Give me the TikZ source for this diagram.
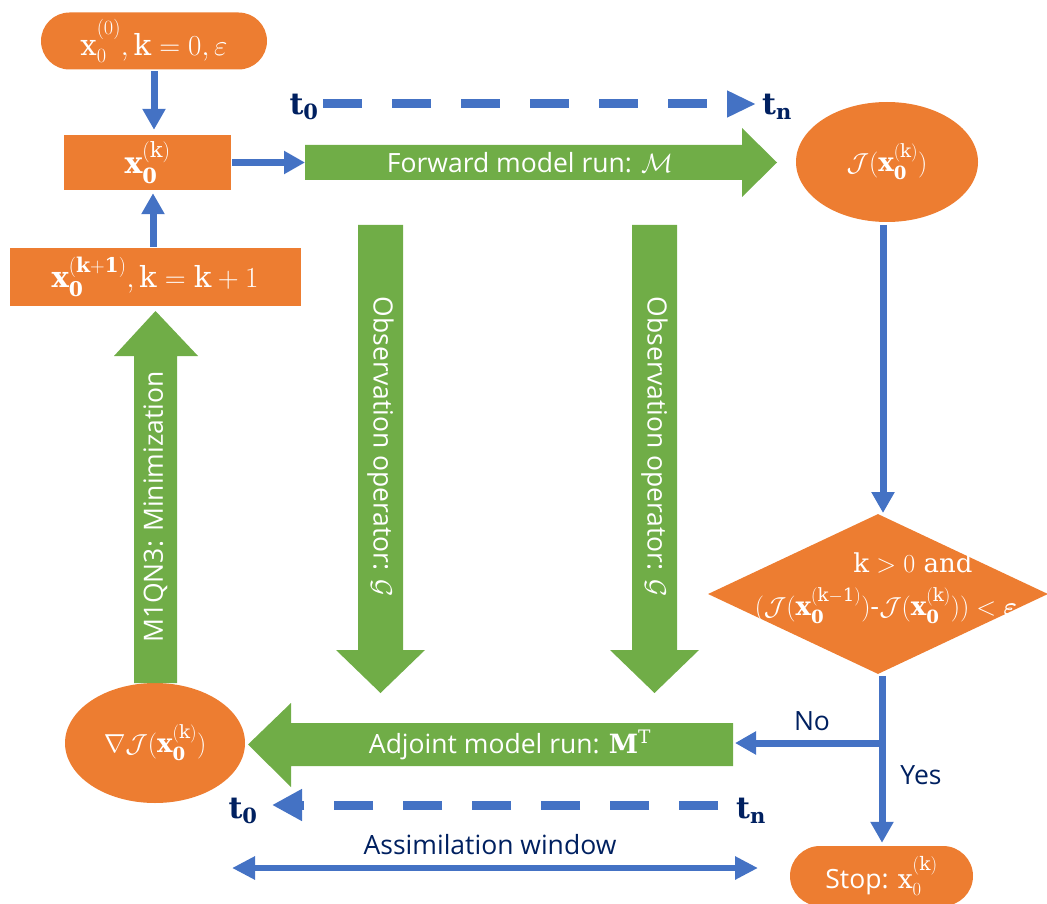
\RequirePackage{fix-cm}
\documentclass[tikz,border=0pt]{standalone}
\usepackage{amsmath,amssymb}
\usepackage{fontspec}
\setmainfont{DejaVu Serif}
\setsansfont{Open Sans}
\usetikzlibrary{arrows.meta,shapes.geometric}
\definecolor{cor}{HTML}{ED7D31}
\definecolor{cgr}{HTML}{70AD47}
\definecolor{cbl}{HTML}{4472C4}
\definecolor{cnv}{HTML}{002060}
\begin{document}
\begin{tikzpicture}[x=1pt,y=-1pt,
  fsz/.style={font=\fontsize{#1}{#1}\selectfont},
  wlab/.style={text=white,font=\sffamily\fontsize{26.5}{30}\selectfont,inner sep=0pt},
  nlab/.style={text=cnv,font=\sffamily\fontsize{26.5}{30}\selectfont,inner sep=0pt},
  tlab/.style={text=cnv,font=\fontsize{30}{34}\selectfont,inner sep=0pt},
  obox/.style={fill=cor,draw=none,text=white,inner sep=0pt},
  bluearrow/.style={draw=cbl,line width=7pt,-{Triangle[width=22pt,length=21pt]}},
  dashline/.style={draw=cbl,line width=9pt,dash pattern=on 39pt off 30pt},
  greenshape/.style={fill=cgr,draw=none}]
\useasboundingbox (0,0) rectangle (1047,904);

% orange nodes
\node[obox,fsz=29,rounded corners=28.5pt,minimum width=226pt,minimum height=57pt] (start) at (154,41)
  {$\mathrm{x}_0^{(0)},\mathrm{k}=0,\varepsilon$};
\node[obox,fsz=30,minimum width=167pt,minimum height=55pt] (xk) at (147.5,162.5)
  {$\mathbf{x}_{\mathbf{0}}^{(\mathrm{k})}$};
\node[obox,fsz=29,minimum width=291pt,minimum height=58pt] (xk1) at (155,277)
  {$\mathbf{x}_{\mathbf{0}}^{(\mathbf{k+1})},\mathrm{k}=\mathrm{k}+1$};
\node[obox,fsz=26,ellipse,minimum width=182pt,minimum height=120pt] (jx) at (887,162)
  {$\mathcal{J}(\mathbf{x}_{\mathbf{0}}^{(\mathrm{k})})$};
\node[obox,diamond,aspect=2.125,minimum width=340pt,minimum height=160pt] (dia) at (878,594) {};
\node[text=white,fsz=26,inner sep=0pt] (dt1) at (913,563) {$\mathrm{k}>0$ and};
\node[text=white,fsz=26,inner sep=0pt] (dt2) at (886,606)
  {$(\mathcal{J}(\mathbf{x}_{\mathbf{0}}^{(\mathrm{k-1})})$-$\mathcal{J}(\mathbf{x}_{\mathbf{0}}^{(\mathrm{k})}))<\boldsymbol{\varepsilon}$};
\node[obox,fsz=26,rounded corners=30pt,minimum width=183pt,minimum height=60pt] (stop) at (881.5,876)
  {\sffamily\fontsize{26.5}{30}\selectfont Stop: $\mathrm{x}_0^{(\mathrm{k})}$};
\node[obox,fsz=26,ellipse,minimum width=180pt,minimum height=120pt] (grad) at (155,743)
  {$\nabla\mathcal{J}(\mathbf{x}_{\mathbf{0}}^{(\mathrm{k})})$};

% green block arrows
\fill[greenshape] (305,145) -- (742,145) -- (742,128) -- (777,162.5) -- (742,197) -- (742,180) -- (305,180) -- cycle;
\node[wlab] (fwd) at (530,163) {Forward model run: $\mathcal{M}$};

\fill[greenshape] (358,225) -- (403,225) -- (403,650) -- (425,650) -- (380.5,693) -- (336,650) -- (358,650) -- cycle;
\node[wlab,rotate=-90] (obs1) at (380.5,447) {Observation operator: $\mathcal{G}$};

\fill[greenshape] (632,225) -- (677,225) -- (677,650) -- (699,650) -- (654.5,693) -- (610,650) -- (632,650) -- cycle;
\node[wlab,rotate=-90] (obs2) at (654.5,447) {Observation operator: $\mathcal{G}$};

\fill[greenshape] (733,723) -- (291,723) -- (291,703) -- (248,744.5) -- (291,787) -- (291,766) -- (733,766) -- cycle;
\node[wlab] (adj) at (510,745) {Adjoint model run: $\mathbf{M}^{\mathrm{T}}$};

\fill[greenshape] (134,683) -- (134,356) -- (114,356) -- (155.5,311) -- (198,356) -- (177,356) -- (177,683) -- cycle;
\node[wlab,rotate=90] (min) at (155.5,507) {M1QN3: Minimization};

% blue connectors
\draw[bluearrow,shorten <=1.5pt,shorten >=5pt] (start.south) -- (start.south |- xk.north);
\coordinate (fwdin) at (305,162.5);
\draw[bluearrow,shorten <=1pt] (xk.east) -- (fwdin);
\coordinate (xk1top) at (153,248);
\draw[bluearrow,shorten <=1pt,shorten >=3pt] (xk1top) -- (xk1top |- xk.south);
\coordinate (jout) at (883,225);
\coordinate (diatop) at (883,513);
\draw[bluearrow] (jout) -- (diatop);
\coordinate (dout) at (882,676);
\draw[bluearrow,shorten >=3pt] (dout) -- (dout |- stop.north);
\coordinate (branch) at (882,743);
\coordinate (adjin) at (735,743);
\draw[bluearrow] (branch) -- (adjin);
\node[nlab] (no) at (812,721) {No};
\node[nlab] (yes) at (921,775) {Yes};

% time axes
\node[tlab] (t0a) at (304,107) {$\mathbf{t}_{\mathbf{0}}$};
\node[tlab] (tna) at (777,107) {$\mathbf{t}_{\mathbf{n}}$};
\coordinate (d1s) at (323,104);
\coordinate (d1e) at (756,104);
\draw[dashline,-{Triangle[width=25pt,length=29pt]}] (d1s) -- (d1e);

\node[tlab] (t0b) at (243,811) {$\mathbf{t}_{\mathbf{0}}$};
\node[tlab] (tnb) at (751,811) {$\mathbf{t}_{\mathbf{n}}$};
\coordinate (d2s) at (718,805);
\coordinate (d2e) at (272,805);
\draw[dashline,-{Triangle[width=30pt,length=30pt]}] (d2s) -- (d2e);

% assimilation window
\coordinate (aw1) at (232,868);
\coordinate (aw2) at (758,868);
\draw[draw=cbl,line width=6pt,{Triangle[width=22pt,length=23pt]}-{Triangle[width=22pt,length=23pt]}] (aw1) -- (aw2);
\node[nlab] (aw) at (490,845) {Assimilation window};
\end{tikzpicture}
\end{document}
